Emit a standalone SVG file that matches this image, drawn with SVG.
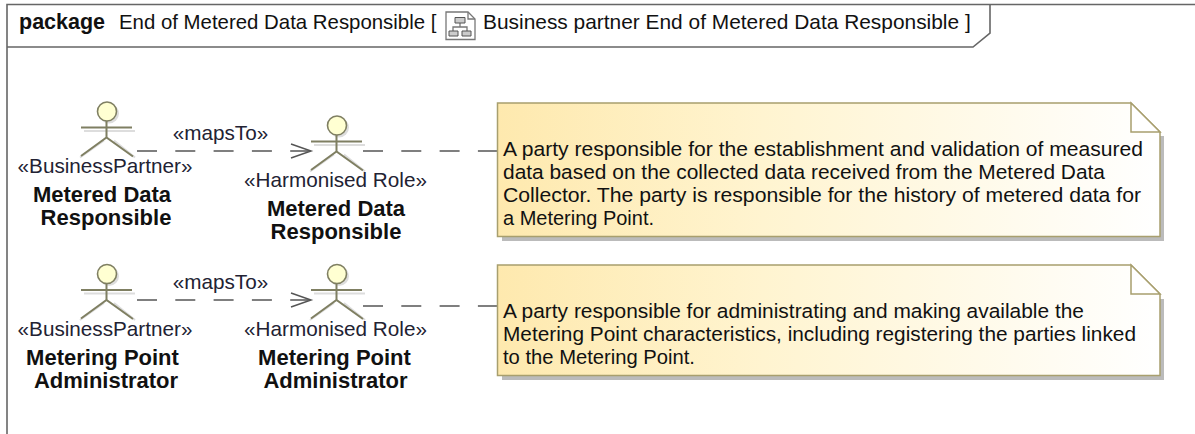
<svg xmlns="http://www.w3.org/2000/svg" width="1195" height="434" viewBox="0 0 1195 434">
<style>
text{font-family:"Liberation Sans",Arial,sans-serif;fill:#111}
.t{font-size:20.700px}
.b{font-size:22px;font-weight:bold;text-anchor:middle}
.s{font-size:20.700px;text-anchor:middle;fill:#223}
.n{font-size:20.500px}
.frame{fill:none;stroke:#666;stroke-width:1.6}
.a{fill:none;stroke:#7f7f62;stroke-width:2}
.h{fill:#ffffd2;stroke:#7f7f62;stroke-width:1.6}
.sh{fill:none;stroke:#ddd;stroke-width:2}
.note{fill:url(#g);stroke:#a89f6e;stroke-width:1.5}
.c{fill:none;stroke:#555;stroke-width:1.5;stroke-dasharray:20 18.3}
.i{fill:none;stroke:#777;stroke-width:1.3}
</style>
<defs>
<linearGradient id="g"><stop offset="0" stop-color="#fee9ae"/><stop offset=".4" stop-color="#fff4d0"/><stop offset="1" stop-color="#fff"/></linearGradient>
<g id="actor">
<path class="sh" d="M3 3.500H54M-1 30L23 13M33 13L54 30"/>
<circle cx="28" cy="-14" r="10" fill="#ddd"/>
<circle class="h" cx="26" cy="-16" r="9.500"/>
<path class="a" d="M25.500 -6.500V10M0 0H51M0 28.500L25.500 10L52 29"/>
</g>
</defs>
<g id="frame">
<path class="frame" d="M7 434V4.500H1195M7 47H973L990 33V4.500"/>
<text x="19" y="29" class="t" style="font-weight:bold;font-size:21.500px">package</text>
<text x="119" y="29" class="t" style="font-size:20.400px">End of Metered Data Responsible [</text>
<g id="icon">
<path class="i" fill="#fff" d="M446 12H468L475 19V39.500H446Z"/>
<path class="i" d="M468 12V19H475M460 23V27M453 31V27H467V31"/>
<path d="M455 17.500H465V23H455ZM449 31H458V36H449ZM462 31H471V36H462Z" fill="#ccc" stroke="#555"/>
</g>
<text x="483" y="29" class="t" style="font-size:20.900px">Business partner End of Metered Data Responsible ]</text>
</g>
<g id="connectors">
<path class="c" d="M137 151H311"/>
<path class="a" style="stroke:#555;stroke-width:1.500" d="M291 144L311 151L291 158"/>
<path class="c" d="M363 151H497"/>
<path class="c" d="M137 300H311"/>
<path class="a" style="stroke:#555;stroke-width:1.500" d="M291 293L311 300L291 307"/>
<path class="c" d="M363 306H497"/>
<text x="220.500" y="140" class="s">«mapsTo»</text>
<text x="220.500" y="289" class="s">«mapsTo»</text>
</g>
<g id="actor-bp-mdr">
<use href="#actor" x="81" y="127.500"/>
<text x="105" y="173" class="s">«BusinessPartner»</text>
<text x="102" y="202" class="b">Metered Data</text>
<text x="106" y="225" class="b">Responsible</text>
</g>
<g id="actor-hr-mdr">
<use href="#actor" x="311" y="141.500"/>
<text x="335.500" y="187" class="s">«Harmonised Role»</text>
<text x="336" y="216" class="b">Metered Data</text>
<text x="336" y="239" class="b">Responsible</text>
</g>
<g id="actor-bp-mpa">
<use href="#actor" x="81" y="290"/>
<text x="105" y="336" class="s">«BusinessPartner»</text>
<text x="102.500" y="365" class="b">Metering Point</text>
<text x="106" y="388" class="b">Administrator</text>
</g>
<g id="actor-hr-mpa">
<use href="#actor" x="311" y="290"/>
<text x="335.500" y="336" class="s">«Harmonised Role»</text>
<text x="334.500" y="365" class="b">Metering Point</text>
<text x="335.500" y="388" class="b">Administrator</text>
</g>
<g id="note-mdr">
<path d="M1164 136V241H502V237H1160V136Z" fill="#bbb"/>
<path class="note" d="M497.500 103H1131L1160 132V236.500H497.500Z"/>
<path class="note" style="fill:#fff" d="M1131 103V132H1160Z"/>
<text x="503" y="156" class="n" textLength="640" lengthAdjust="spacingAndGlyphs">A party responsible for the establishment and validation of measured</text>
<text x="503" y="179" class="n" textLength="602" lengthAdjust="spacingAndGlyphs">data based on the collected data received from the Metered Data</text>
<text x="503" y="202" class="n" textLength="638" lengthAdjust="spacingAndGlyphs">Collector. The party is responsible for the history of metered data for</text>
<text x="503" y="225" class="n" textLength="151" lengthAdjust="spacingAndGlyphs">a Metering Point.</text>
</g>
<g id="note-mpa">
<path d="M1164 299V380H502V376H1160V299Z" fill="#bbb"/>
<path class="note" d="M497.500 265H1131L1160 294V375.500H497.500Z"/>
<path class="note" style="fill:#fff" d="M1131 265V294H1160Z"/>
<text x="503" y="318" class="n" textLength="581" lengthAdjust="spacingAndGlyphs">A party responsible for administrating and making available the</text>
<text x="503" y="341" class="n" textLength="633" lengthAdjust="spacingAndGlyphs">Metering Point characteristics, including registering the parties linked</text>
<text x="503" y="364" class="n" textLength="192" lengthAdjust="spacingAndGlyphs">to the Metering Point.</text>
</g>
</svg>
